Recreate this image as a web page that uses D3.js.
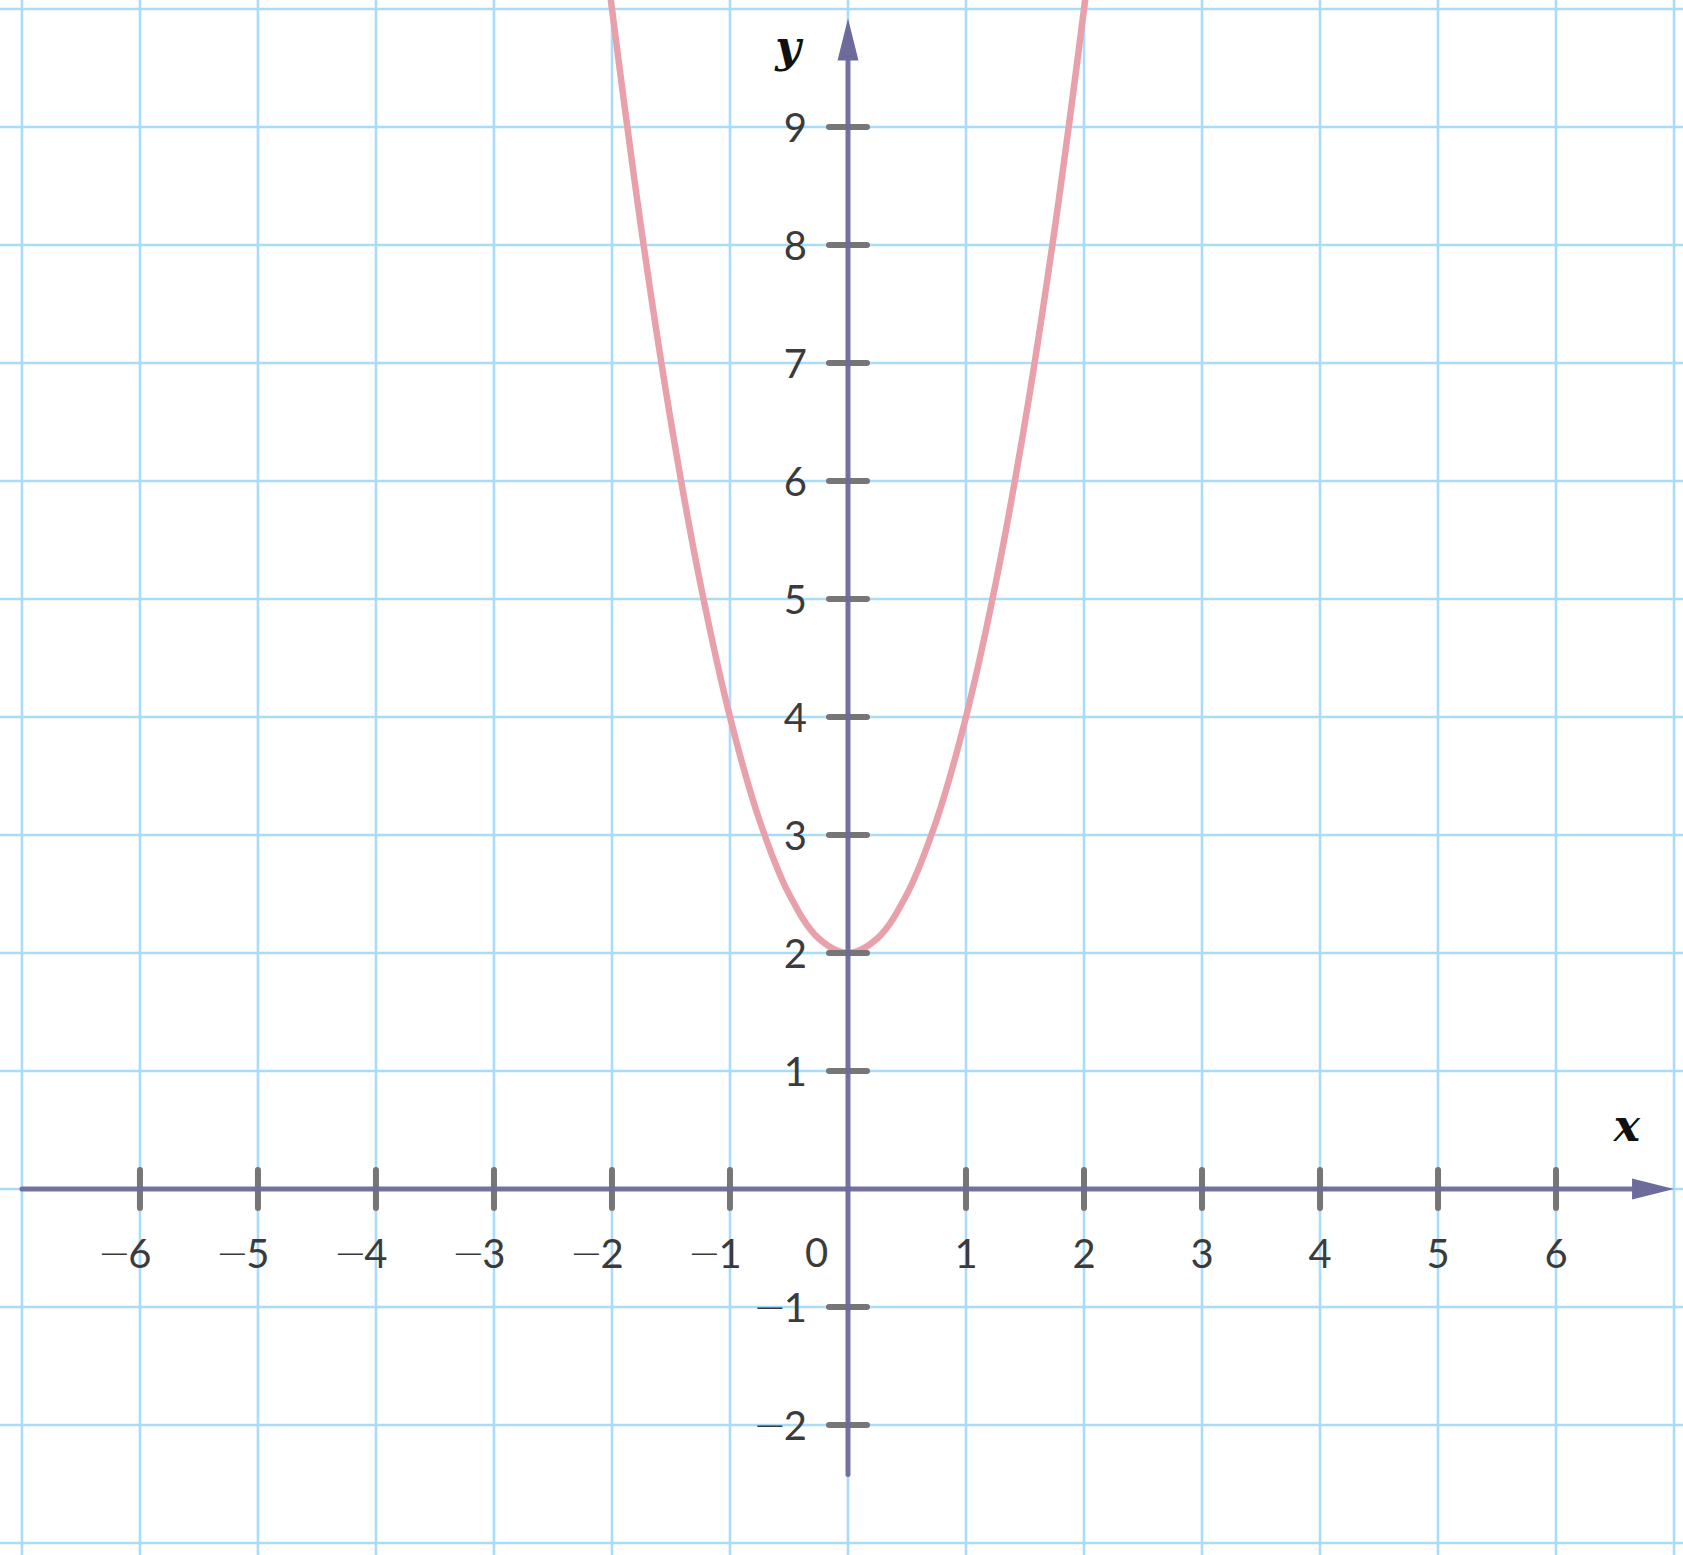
<!DOCTYPE html>
<html><head><meta charset="utf-8">
<script src="https://cdn.jsdelivr.net/npm/d3@7"></script>
<style>html,body{margin:0;padding:0;background:#fff;overflow:hidden}</style>
</head><body>
<svg id="c" width="1683" height="1555"></svg>
<script>
// Data
const xTicks = [-6,-5,-4,-3,-2,-1,1,2,3,4,5,6];
const yTicks = [-2,-1,1,2,3,4,5,6,7,8,9];
const xGrid = [-7,-6,-5,-4,-3,-2,-1,0,1,2,3,4,5,6,7];
const yGrid = [-3,-2,-1,0,1,2,3,4,5,6,7,8,9,10];
const curveX = [-2.05,-2,-1.75,-1.5,-1.25,-1,-0.75,-0.5,-0.25,0,0.25,0.5,0.75,1,1.25,1.5,1.75,2,2.05];
const curveY = [10.41,10,8.125,6.5,5.125,4,3.125,2.5,2.125,2,2.125,2.5,3.125,4,5.125,6.5,8.125,10,10.41];
const xDomain = [-7.186, 7.076];
const yDomain = [10.076, -3.102];
const xAxisEnd = [-7, 7];
const yAxisEnd = [-2.42, 9.92];

const W = 1683, H = 1555;
const svg = d3.select("#c");
const x = d3.scaleLinear().domain(xDomain).range([0, W]);
const y = d3.scaleLinear().domain(yDomain).range([0, H]);

// grid
const grid = svg.append("g").attr("stroke", "#a9dcfb").attr("stroke-width", 2.6);
grid.selectAll(".gv").data(xGrid).join("line")
  .attr("x1", d => x(d)).attr("x2", d => x(d)).attr("y1", 0).attr("y2", H);
grid.selectAll(".gh").data(yGrid).join("line")
  .attr("y1", d => y(d)).attr("y2", d => y(d)).attr("x1", 0).attr("x2", W);

// curve
const defs = svg.append("defs");
defs.append("clipPath").attr("id", "clip").append("rect").attr("x",0).attr("y",0).attr("width",W).attr("height",H);
const pts = curveX.map((v,i) => [v, curveY[i]]);
svg.append("path").datum(pts)
  .attr("clip-path", "url(#clip)")
  .attr("fill", "none").attr("stroke", "#e8a1aa").attr("stroke-width", 6.5)
  .attr("d", d3.line().x(d => x(d[0])).y(d => y(d[1])).curve(d3.curveCatmullRom.alpha(0.5)));

// ticks
const tickCol = "#767676";
svg.append("g").selectAll("line").data(xTicks).join("line")
  .attr("x1", d => x(d)).attr("x2", d => x(d))
  .attr("y1", y(0) - 19).attr("y2", y(0) + 19)
  .attr("stroke", tickCol).attr("stroke-width", 6).attr("stroke-linecap", "round");
svg.append("g").selectAll("line").data(yTicks).join("line")
  .attr("y1", d => y(d)).attr("y2", d => y(d))
  .attr("x1", x(0) - 19).attr("x2", x(0) + 19)
  .attr("stroke", tickCol).attr("stroke-width", 6).attr("stroke-linecap", "round");

// axes
const axCol = "#6d6a9c";
svg.append("line").attr("x1", x(xAxisEnd[0])).attr("x2", x(xAxisEnd[1]) - 30)
  .attr("y1", y(0)).attr("y2", y(0))
  .attr("stroke", axCol).attr("stroke-width", 5).attr("stroke-linecap", "round").attr("stroke-opacity", 0.95);
svg.append("line").attr("x1", x(0)).attr("x2", x(0))
  .attr("y1", y(yAxisEnd[0])).attr("y2", y(yAxisEnd[1]) + 30)
  .attr("stroke", axCol).attr("stroke-width", 5).attr("stroke-linecap", "round").attr("stroke-opacity", 0.95);
// arrowheads
const xt = x(xAxisEnd[1]), y0 = y(0);
svg.append("path").attr("fill", axCol)
  .attr("d", `M${xt},${y0} L${xt-42},${y0-10.5} L${xt-42},${y0+10.5} Z`);
const yt = y(yAxisEnd[1]), x0 = x(0);
svg.append("path").attr("fill", axCol)
  .attr("d", `M${x0},${yt} L${x0-10.5},${yt+42} L${x0+10.5},${yt+42} Z`);

// labels
const lab = svg.append("g").attr("font-family", "Lato, 'Open Sans', sans-serif")
  .attr("font-size", 40).attr("fill", "#3b3b3b");
function minusBefore(textSel) {
  textSel.each(function(d) {
    if (d >= 0) return;
    const b = this.getBBox();
    lab.append("text").attr("x", b.x + 3).attr("y", +d3.select(this).attr("y") - 1)
      .attr("text-anchor", "end")
      .attr("font-family", "'DejaVu Sans', sans-serif").attr("font-weight", 200)
      .attr("font-size", 40).text("\u2212");
  });
}
const xl = lab.selectAll(".xl").data(xTicks).join("text").attr("class", "xl")
  .attr("x", d => x(d)).attr("y", y(0) + 79)
  .attr("text-anchor", "middle").text(d => Math.abs(d));
minusBefore(xl);
const yl = lab.selectAll(".yl").data(yTicks).join("text").attr("class", "yl")
  .attr("x", x(0) - 41).attr("y", d => y(d) + 15)
  .attr("text-anchor", "end").text(d => Math.abs(d));
minusBefore(yl);
lab.append("text").attr("x", x(0) - 31.5).attr("y", y(0) + 78)
  .attr("text-anchor", "middle").text("0");

// axis names
svg.append("text").attr("x", x(0) - 60).attr("y", y(9.6) + 6)
  .attr("font-family", "'DejaVu Serif', serif").attr("font-style", "italic").attr("font-weight", "bold")
  .attr("font-size", 44).attr("fill", "#111").attr("text-anchor", "middle").text("y");
svg.append("text").attr("x", x(6.6)).attr("y", y(0.46) + 6)
  .attr("font-family", "'DejaVu Serif', serif").attr("font-style", "italic").attr("font-weight", "bold")
  .attr("font-size", 44).attr("fill", "#111").attr("text-anchor", "middle").text("x");
</script>
</body></html>
